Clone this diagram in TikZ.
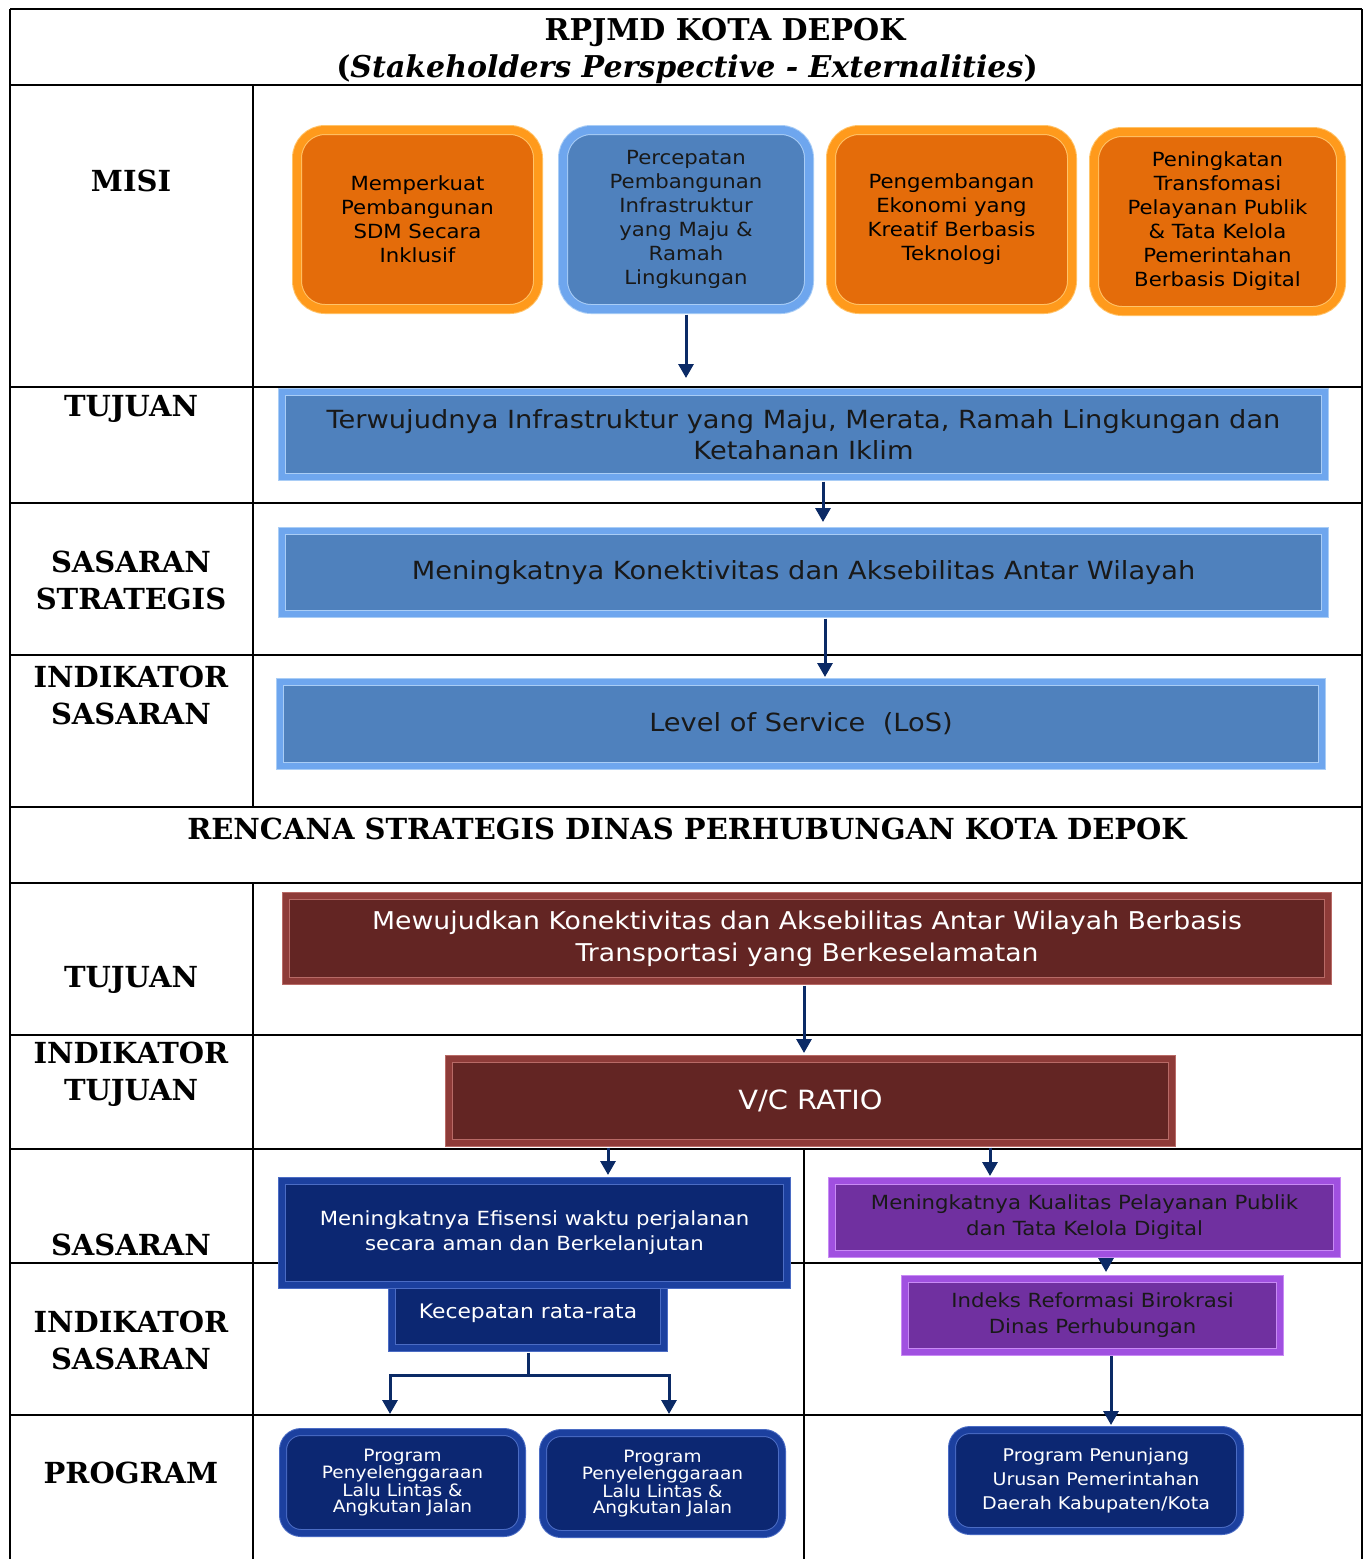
\documentclass[tikz,border=0pt]{standalone}
\usepackage{fontspec}
\newfontfamily\labfont{DejaVu Serif}
\newfontfamily\boxfont[FakeStretch=1.09]{DejaVu Sans}
\usetikzlibrary{arrows.meta}
\definecolor{orFill}{HTML}{E46C0A}
\definecolor{orEdge}{HTML}{FF9A1C}
\definecolor{orHi}{HTML}{FFC46A}
\definecolor{blFill}{HTML}{4F81BD}
\definecolor{blEdge}{HTML}{6EA6EE}
\definecolor{blHi}{HTML}{A9CDF6}
\definecolor{rdFill}{HTML}{632523}
\definecolor{rdEdge}{HTML}{8E3B38}
\definecolor{rdHi}{HTML}{B86A66}
\definecolor{nvFill}{HTML}{0C2772}
\definecolor{nvEdge}{HTML}{1C409F}
\definecolor{nvHi}{HTML}{4B6CC4}
\definecolor{puFill}{HTML}{7030A0}
\definecolor{puEdge}{HTML}{A050E0}
\definecolor{puHi}{HTML}{C98AF5}
\definecolor{arrCol}{HTML}{0B2A66}
\begin{document}
\begin{tikzpicture}[x=1pt,y=-1pt,
  tbl/.style={line width=2.2pt,black},
  lab/.style={font=\labfont\bfseries\fontsize{29}{37}\selectfont,align=center,inner sep=0pt},
  head/.style={font=\labfont\bfseries\fontsize{30}{37}\selectfont,align=center,inner sep=0pt},
  bevel/.style 2 args={rectangle,fill=#1,draw=#2,line width=1pt,double distance=6pt,inner sep=0pt,align=center},
  roundbox/.style 2 args={rectangle,rounded corners=28pt,fill=#1,draw=#2,line width=1pt,double distance=8pt,inner sep=0pt,align=center},
  misibox/.style={roundbox={orFill}{orHi},double=orEdge,text=black,font=\boxfont\fontsize{19.5}{24}\selectfont},
  misiblue/.style={roundbox={blFill}{blHi},double=blEdge,text=black!90,font=\boxfont\fontsize{19.5}{24}\selectfont},
  bluebox/.style={bevel={blFill}{blHi},double=blEdge,text=black!90,font=\boxfont\fontsize{25}{30.5}\selectfont},
  redbox/.style={bevel={rdFill}{rdHi},double=rdEdge,text=white,font=\boxfont\fontsize{24.5}{32}\selectfont},
  navybox/.style={bevel={nvFill}{nvHi},double=nvEdge,text=white,font=\boxfont\fontsize{19.5}{25}\selectfont},
  purplebox/.style={bevel={puFill}{puHi},double=puEdge,text=black!90,font=\boxfont\fontsize{19.5}{26}\selectfont},
  progbox/.style={rectangle,rounded corners=18pt,fill=nvFill,draw=nvHi,line width=1pt,double=nvEdge,double distance=6pt,inner sep=0pt,align=center,text=white},
  arr/.style={draw=arrCol,line width=3pt,-{Triangle[width=15pt,length=14pt]}},
  arrline/.style={draw=arrCol,line width=3pt}
]
\useasboundingbox (0,0) rectangle (1368,1559);
\fill[white] (0,0) rectangle (1368,1559);
% table
\draw[tbl] (10,9) -- (1362,9);
\draw[tbl] (10,9) -- (10,1559);
\draw[tbl] (1362,9) -- (1362,1559);
\foreach \yy in {85,387,503,655,807,883,1035,1149,1263,1415}
  \draw[tbl] (10,\yy) -- (1362,\yy);
\draw[tbl] (253,85) -- (253,807);
\draw[tbl] (253,883) -- (253,1559);
\draw[tbl] (804,1149) -- (804,1559);

% headers
\node[head] (h1) at (725,32) {RPJMD KOTA DEPOK};
\node[head] (h2) at (687,69) {(\textit{Stakeholders Perspective - Externalities})};
\node[head,font=\labfont\bfseries\fontsize{29}{37}\selectfont] (h3) at (687,829) {RENCANA STRATEGIS DINAS PERHUBUNGAN KOTA DEPOK};

% left labels
\node[lab] (lMisi) at (131,181) {MISI};
\node[lab] (lTuj) at (131,409) {TUJUAN};
\node[lab] (lSS) at (131,580) {SASARAN\\STRATEGIS};
\node[lab] (lIS) at (131,695) {INDIKATOR\\SASARAN};
\node[lab] (lTuj2) at (131,980) {TUJUAN};
\node[lab] (lIT) at (131,1074) {INDIKATOR\\TUJUAN};
\node[lab] (lSas) at (131,1245) {SASARAN};
\node[lab] (lIS2) at (131,1340) {INDIKATOR\\SASARAN};
\node[lab] (lProg) at (131,1473) {PROGRAM};

% MISI boxes
\node[misibox,minimum width=241,minimum height=179] (m1) at (417.5,219.5) {Memperkuat\\Pembangunan\\SDM Secara\\Inklusif};
\node[misiblue,minimum width=246,minimum height=179] (m2) at (686,219.5) {Percepatan\\Pembangunan\\Infrastruktur\\yang Maju \&\\Ramah\\Lingkungan};
\node[misibox,minimum width=241,minimum height=179] (m3) at (951.5,219.5) {Pengembangan\\Ekonomi yang\\Kreatif Berbasis\\Teknologi};
\node[misibox,minimum width=247,minimum height=179] (m4) at (1217.5,221.5) {Peningkatan\\Transfomasi\\Pelayanan Publik\\\& Tata Kelola\\Pemerintahan\\Berbasis Digital};

% RPJMD boxes
\node[bluebox,minimum width=1043,minimum height=85] (tuj) at (803.5,434.5) {Terwujudnya Infrastruktur yang Maju, Merata, Ramah Lingkungan dan\\Ketahanan Iklim};
\node[bluebox,minimum width=1043,minimum height=83] (sst) at (803.5,572.5) {Meningkatnya Konektivitas dan Aksebilitas Antar Wilayah};
\node[bluebox,minimum width=1042,minimum height=84] (ind) at (801,724) {Level of Service\ \ (LoS)};

% Renstra boxes
\node[redbox,minimum width=1042,minimum height=85] (rtuj) at (807,938.5) {Mewujudkan Konektivitas dan Aksebilitas Antar Wilayah Berbasis\\Transportasi yang Berkeselamatan};
\node[redbox,minimum width=723,minimum height=84,font=\boxfont\fontsize{26.5}{30}\selectfont] (vc) at (810.5,1101) {V/C RATIO};

\node[navybox,minimum width=272,minimum height=69,font=\boxfont\fontsize{20}{25}\selectfont] (kec) at (528,1313.5) {Kecepatan rata-rata};
\node[navybox,minimum width=505,minimum height=104] (sasL) at (534.5,1233) {Meningkatnya Efisensi waktu perjalanan\\secara aman dan Berkelanjutan};

\node[purplebox,minimum width=505,minimum height=73] (sasR) at (1084.5,1217) {Meningkatnya Kualitas Pelayanan Publik\\dan Tata Kelola Digital};
\node[purplebox,minimum width=375,minimum height=73] (idx) at (1092.5,1315) {Indeks Reformasi Birokrasi\\Dinas Perhubungan};

\node[progbox,minimum width=239,minimum height=101,font=\boxfont\fontsize{17}{16}\selectfont] (p1) at (402.5,1482.5) {Program\\Penyelenggaraan\\Lalu Lintas \&\\Angkutan Jalan};
\node[progbox,minimum width=239,minimum height=101,font=\boxfont\fontsize{17}{16}\selectfont] (p2) at (662.5,1483.5) {Program\\Penyelenggaraan\\Lalu Lintas \&\\Angkutan Jalan};
\node[progbox,minimum width=288,minimum height=101,font=\boxfont\fontsize{17.5}{24}\selectfont] (p3) at (1096,1480.5) {Program Penunjang\\Urusan Pemerintahan\\Daerah Kabupaten/Kota};

% connectors
\coordinate (a1) at (686,378);
\coordinate (a2) at (823,522);
\coordinate (a3) at (825,677);
\coordinate (a4) at (804,1053);
\coordinate (a5) at (608,1175);
\coordinate (a6) at (990,1176);
\coordinate (a7) at (1106,1272);
\coordinate (a8) at (1111,1425);
\coordinate (j) at (528,1375);
\coordinate (bl) at (390,1414);
\coordinate (br) at (669,1414);
\draw[arr,shorten <=5pt] (m2.south) -- (a1);
\draw[arr,shorten <=4pt] (tuj.south -| a2) -- (a2);
\draw[arr,shorten <=4pt] (sst.south -| a3) -- (a3);
\draw[arr,shorten <=4pt] (rtuj.south -| a4) -- (a4);
\draw[arr,shorten <=4pt] (vc.south -| a5) -- (a5);
\draw[arr,shorten <=4pt] (vc.south -| a6) -- (a6);
\draw[arr,shorten <=4pt] (sasR.south -| a7) -- (a7);
\draw[arr,shorten <=4pt] (idx.south -| a8) -- (a8);
\draw[arrline,shorten <=4pt] (kec.south) -- (j);
\draw[arr] (j) -| (bl);
\draw[arr] (j) -| (br);
\end{tikzpicture}
\end{document}
